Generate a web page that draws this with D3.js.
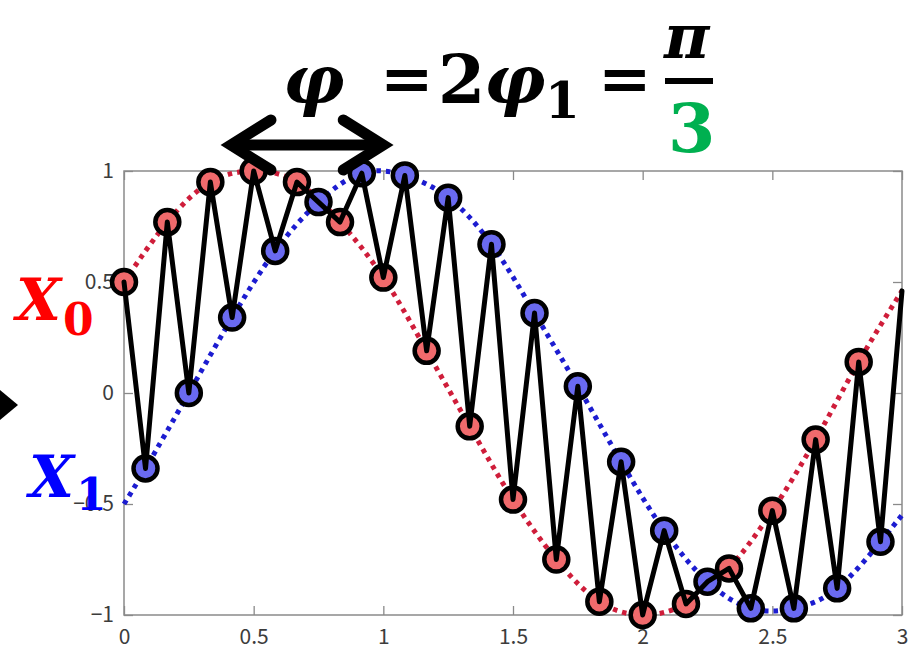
<!DOCTYPE html>
<html>
<head>
<meta charset="utf-8">
<script src="https://cdn.jsdelivr.net/npm/d3@7"></script>
<style>
  html, body { margin: 0; padding: 0; background: #fff; }
  svg { display: block; }
</style>
</head>
<body>
<script>
// Sample times (x axis) and sampled values of the two oscillators X0 and X1
const x0Times  = [0, 0.167, 0.333, 0.5, 0.667, 0.833, 1, 1.167, 1.333, 1.5, 1.667, 1.833, 2, 2.167, 2.333, 2.5, 2.667, 2.833];
const x0Values = [0.5, 0.77, 0.95, 1.0, 0.95, 0.77, 0.52, 0.19, -0.15, -0.48, -0.75, -0.94, -1.0, -0.95, -0.79, -0.53, -0.21, 0.14];
const x1Times  = [0.083, 0.25, 0.417, 0.583, 0.75, 0.917, 1.083, 1.25, 1.417, 1.583, 1.75, 1.917, 2.083, 2.25, 2.417, 2.583, 2.75, 2.917];
const x1Values = [-0.34, 0.0, 0.34, 0.64, 0.86, 0.99, 0.98, 0.88, 0.67, 0.36, 0.03, -0.31, -0.62, -0.85, -0.97, -0.97, -0.88, -0.67];

// Values of the continuous curves at the edges of the window
const edgeTimes   = [0, 3];
const x0EdgeValue = [0.5, 0.46];
const x1EdgeValue = [-0.5, -0.55];

// Axis ticks
const xTickValues = [0, 0.5, 1, 1.5, 2, 2.5, 3];
const xTickLabels = ["0", "0.5", "1", "1.5", "2", "2.5", "3"];
const yTickValues = [-1, -0.5, 0, 0.5, 1];
const yTickLabels = ["\u22121", "\u22120.5", "0", "0.5", "1"];

const W = 915, H = 650;
const svg = d3.select("body").append("svg").attr("width", W).attr("height", H);
svg.append("rect").attr("width", W).attr("height", H).attr("fill", "#fff");

const x = d3.scaleLinear().domain([0, 3]).range([124, 902]);
const y = d3.scaleLinear().domain([-1, 1]).range([615, 171]);

const tickFont = "'Liberation Sans Narrow', 'Noto Sans CJK JP', sans-serif";
const frameColor = "#8a8a8a";

function styleAxis(g) {
  g.attr("font-family", tickFont).attr("font-size", 21);
  g.select(".domain").remove();
  g.selectAll(".tick line").attr("stroke", frameColor).attr("stroke-width", 1.3);
  g.selectAll(".tick text").attr("fill", "#3c3c3c");
}

// Box axes with inward ticks
svg.append("g").attr("transform", `translate(0,${y(-1)})`)
  .call(d3.axisBottom(x).tickValues(xTickValues).tickFormat((d, i) => xTickLabels[i]).tickSizeInner(-9).tickSizeOuter(0).tickPadding(14))
  .call(styleAxis);
svg.append("g").attr("transform", `translate(0,${y(1)})`)
  .call(d3.axisTop(x).tickValues(xTickValues).tickFormat("").tickSizeInner(-9).tickSizeOuter(0))
  .call(styleAxis);
svg.append("g").attr("transform", `translate(${x(0)},0)`)
  .call(d3.axisLeft(y).tickValues(yTickValues).tickFormat((d, i) => yTickLabels[i]).tickSizeInner(-9).tickSizeOuter(0).tickPadding(10))
  .call(styleAxis);
svg.append("g").attr("transform", `translate(${x(3)},0)`)
  .call(d3.axisRight(y).tickValues(yTickValues).tickFormat("").tickSizeInner(-9).tickSizeOuter(0))
  .call(styleAxis);

svg.append("rect")
  .attr("x", x(0)).attr("y", y(1))
  .attr("width", x(3) - x(0)).attr("height", y(-1) - y(1))
  .attr("fill", "none").attr("stroke", frameColor).attr("stroke-width", 1.5);

// Continuous curves (dotted)
const x0Curve = [[edgeTimes[0], x0EdgeValue[0]]]
  .concat(x0Times.slice(1).map((t, i) => [t, x0Values[i + 1]]))
  .concat([[edgeTimes[1], x0EdgeValue[1]]]);
const x1Curve = [[edgeTimes[0], x1EdgeValue[0]]]
  .concat(x1Times.map((t, i) => [t, x1Values[i]]))
  .concat([[edgeTimes[1], x1EdgeValue[1]]]);

const curve = d3.line().x(d => x(d[0])).y(d => y(d[1])).curve(d3.curveNatural);

svg.append("path").attr("d", curve(x0Curve))
  .attr("fill", "none").attr("stroke", "#cf1d3a").attr("stroke-width", 5)
  .attr("stroke-dasharray", "4.5 5");
svg.append("path").attr("d", curve(x1Curve))
  .attr("fill", "none").attr("stroke", "#1c1cd0").attr("stroke-width", 5)
  .attr("stroke-dasharray", "4.5 5");

// Alternating samples X0, X1, X0, ...
const samples = [];
x0Times.forEach((t, i) => {
  samples.push({ t: t, v: x0Values[i], s: 0 });
  samples.push({ t: x1Times[i], v: x1Values[i], s: 1 });
});

svg.append("g").selectAll("circle").data(samples).join("circle")
  .attr("cx", d => x(d.t)).attr("cy", d => y(d.v)).attr("r", 12)
  .attr("fill", d => d.s === 0 ? "#f06a6c" : "#6a6af0")
  .attr("stroke", "#000").attr("stroke-width", 4.5);

const zig = samples.map(d => [d.t, d.v]).concat([[edgeTimes[1], x0EdgeValue[1]]]);
svg.append("path")
  .attr("d", d3.line().x(d => x(d[0])).y(d => y(d[1]))(zig))
  .attr("fill", "none").attr("stroke", "#000").attr("stroke-width", 5)
  .attr("stroke-linejoin", "round").attr("stroke-linecap", "round");

// Phase-difference arrow
const ay = 145;
const ax0 = x(0.397), ax1 = x(1.015);
const arrow = svg.append("g").attr("stroke", "#000").attr("stroke-width", 11)
  .attr("fill", "none").attr("stroke-linecap", "round").attr("stroke-linejoin", "miter");
arrow.append("line").attr("x1", ax0 + 6).attr("x2", ax1 - 6).attr("y1", ay).attr("y2", ay);
arrow.append("path").attr("d", `M${ax0 + 44},${ay - 25} L${ax0 + 4},${ay} L${ax0 + 44},${ay + 25}`);
arrow.append("path").attr("d", `M${ax1 - 44},${ay - 25} L${ax1 - 4},${ay} L${ax1 - 44},${ay + 25}`);

// Left-edge pointer
svg.append("path").attr("d", "M0,390 L18,405 L0,420 Z").attr("fill", "#000");

// Title formula
const serif = "'DejaVu Serif', 'Liberation Serif', serif";
function txt(s, px, py, size, opts = {}) {
  return svg.append("text").attr("x", px).attr("y", py).text(s)
    .style("font-family", serif).style("font-size", size + "px")
    .style("font-weight", "bold").style("font-style", opts.italic ? "italic" : "normal")
    .attr("fill", opts.fill || "#000");
}
txt("\u03C6", 283, 103, 68, { italic: true });
txt("=", 380, 100, 64);
txt("2", 438, 103, 68);
txt("\u03C6", 484, 103, 68, { italic: true });
txt("1", 545, 118, 50);
txt("=", 598, 100, 64);
txt("\u03C0", 664, 58, 62, { italic: true });
svg.append("rect").attr("x", 665).attr("y", 78).attr("width", 48).attr("height", 6).attr("fill", "#000");
txt("3", 668, 152, 68, { fill: "#00b050" });

// Series labels
txt("X", 16, 320, 58, { italic: true, fill: "#ff0000" });
txt("0", 63, 335, 44, { fill: "#ff0000" });
txt("X", 29, 497, 58, { italic: true, fill: "#0000ff" });
txt("1", 76, 510, 44, { fill: "#0000ff" });
</script>
</body>
</html>
